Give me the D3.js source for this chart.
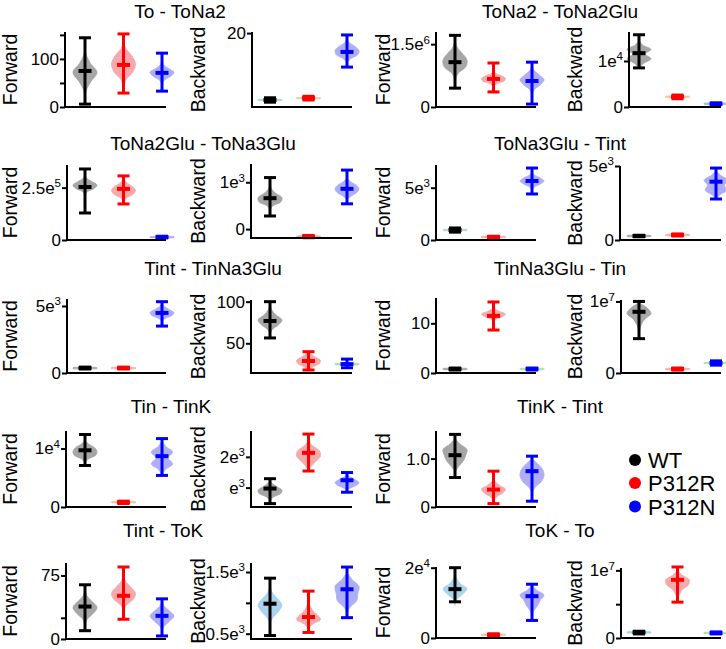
<!DOCTYPE html>
<html><head><meta charset="utf-8">
<script src="https://cdn.jsdelivr.net/npm/d3@7"></script>
<style>body{margin:0;background:#fff}svg{display:block}text{font-family:"Liberation Sans",Arial,sans-serif}</style>
</head><body><svg id="chart" width="726" height="649"></svg>
<script>
// ---------- data ----------
const groups = ['WT', 'P312R', 'P312N'];
const titles = ['To - ToNa2', 'ToNa2 - ToNa2Glu', 'ToNa2Glu - ToNa3Glu', 'ToNa3Glu - Tint',
  'Tint - TinNa3Glu', 'TinNa3Glu - Tin', 'Tin - TinK', 'TinK - Tint', 'Tint - ToK', 'ToK - To'];
const panelTitle = [0,0,1,1,2,2,3,3,4,4,5,5,6,6,7,8,8,9,9];
const panelDir = ['Forward','Backward','Forward','Backward','Forward','Backward','Forward','Backward',
  'Forward','Backward','Forward','Backward','Forward','Backward','Forward','Forward','Backward','Forward','Backward'];
const yDomains = [[0,156],[0,20.3],[0,1.79e6],[0,1.63e4],[0,3.58e5],[-190,1390],[0,7170],[0,5000],
  [0,5520],[14.3,102],[0,15.1],[0,1.02e7],[0,1.3e4],[370,2840],[0,1.57],[0,89.7],[414,1646],[0,2.02e4],[0,1.035e7]];
const tickValues = [[0,50,100,150],[20],[0,1.5e6],[0,1e4],[0,2.5e5],[0,1e3],[0,5e3],[0,5e3],[0,5e3],[50,100],
  [0,10],[0,1e7],[0,1e4],[1e3,2e3],[0,1],[0,25,75],[500,1000,1500],[0,2e4],[0,5e6,1e7]];
const tickLabels = [['0','','100',''],['20'],['0','1.5e^6'],['0','1e^4'],['0','2.5e^5'],['0','1e^3'],['0','5e^3'],
  ['0','5e^3'],['0','5e^3'],['50','100'],['0','10'],['0','1e^7'],['0','1e^4'],['e^3','2e^3'],['0','1.0'],
  ['0','','75'],['0.5e^3','','1.5e^3'],['0','2e^4'],['0','','1e^7']];
const means = [[75,87.5,71],[1.9,2.4,14.9],[1.07e6,0.67e6,0.62e6],[1.17e4,2200,700],[2.53e5,2.44e5,1.4e4],
  [660,-160,860],[960,290,5640],[270,340,3940],[370,370,4480],[76.8,28.7,25],[0.8,11.5,0.8],
  [0.855e7,0.056e7,0.14e7],[9700,800,8700],[970,2130,1240],[1.07,0.36,0.74],[38.3,51,27.3],
  [986,770,1220],[1.39e4,900,1.19e4],[0.083e7,0.86e7,0.074e7]];
const lows = [[6,29,33],[1.3,1.9,10.8],[0.45e6,0.36e6,0.07e6],[8500,1800,500],[1.29e5,1.72e5,1.0e4],
  [280,-185,540],[750,220,4400],[220,270,2770],[300,300,3500],[56.4,17.9,20.6],[0.6,8.65,0.6],
  [0.48e7,0.04e7,0.11e7],[7100,600,5400],[480,1540,850],[0.61,0.07,0.12],[9.8,23.3,3.6],
  [470,520,760],[1.03e4,600,5000],[0.06e7,0.53e7,0.06e7]];
const highs = [[144,152,112],[2.5,2.9,19.5],[1.71e6,1.05e6,1.07e6],[1.57e4,2600,900],[3.39e5,3.06e5,1.8e4],
  [1100,-135,1260],[1150,360,6880],[320,410,4860],[440,440,5320],[100,39.9,31],[1.0,14.3,1.0],
  [1.0e7,0.07e7,0.17e7],[1.24e4,1000,1.17e4],[1290,2740,1490],[1.5,0.74,1.05],[64,85,47.4],
  [1400,1190,1580],[2.0e4,1200,1.53e4],[0.1e7,1.05e7,0.09e7]];
// violin extents [low, high] and density profiles (relative, sampled low -> high)
const violinRange = [
  [[15,129],[40,140],[46,98]], [[1.75,2.05],[2.25,2.55],[12,18.5]],
  [[0.64e6,1.6e6],[0.5e6,0.86e6],[0.3e6,1.0e6]], [[8500,14500],[2050,2380],[550,850]],
  [[2.15e5,3.1e5],[1.8e5,2.95e5],[1.0e4,1.7e4]], [[400,940],[-176,-144],[620,1090]],
  [[890,1030],[220,360],[4780,6500]], [[220,320],[290,390],[2700,4700]],
  [[310,420],[310,420],[3800,5200]], [[60,96],[18,41],[24,26]],
  [[0.65,0.95],[10.2,13.5],[0.65,0.95]], [[0.53e7,0.98e7],[0.045e7,0.066e7],[0.13e7,0.15e7]],
  [[7600,11400],[700,960],[5400,11400]], [[590,1240],[1500,2550],[900,1430]],
  [[0.72,1.42],[0.14,0.6],[0.3,1.0]], [[16.6,58],[32,76],[8,46]],
  [[640,1290],[570,1050],[800,1500]], [[9200,18800],[700,1120],[6600,15000]],
  [[0.072e7,0.094e7],[0.57e7,1.0e7],[0.063e7,0.085e7]]];
const violinDensity = [
  [[0.1,0.5,1,0.45,0.08],[0.2,0.8,1,0.7,0.15],[0.15,0.7,1,0.5,0.1]],
  [[1,1,1,1,1],[1,1,1,1,1],[0.3,0.9,1,0.7,0.2]],
  [[0.25,0.9,1,0.6,0.15],[0.3,0.9,1,0.7,0.2],[0.2,0.7,1,0.6,0.15]],
  [[0.4,1,0.5,1,0.3],[1,1,1,1,1],[1,1,1,1,1]],
  [[0.2,0.8,1,0.6,0.15],[0.2,0.8,1,0.7,0.2],[1,1,1,1,1]],
  [[0.2,0.9,1,0.5,0.15],[1,1,1,1,1],[0.3,0.8,1,0.8,0.3]],
  [[1,1,1,1,1],[1,1,1,1,1],[0.2,0.7,1,0.7,0.2]],
  [[1,1,1,1,1],[1,1,1,1,1],[0.3,0.9,0.7,1,0.4]],
  [[1,1,1,1,1],[1,1,1,1,1],[0.2,0.8,1,0.6,0.2]],
  [[0.15,0.7,1,0.5,0.15],[0.4,0.9,1,0.6,0.2],[1,1,1,1,1]],
  [[1,1,1,1,1],[0.15,0.7,1,0.5,0.1],[1,1,1,1,1]],
  [[0.05,0.2,0.5,1,0.7],[1,1,1,1,1],[1,1,1,1,1]],
  [[0.3,0.9,1,0.8,0.3],[1,1,1,1,1],[0.3,0.9,0.5,0.9,0.3]],
  [[0.3,0.9,1,0.6,0.2],[0.2,0.6,1,0.9,0.3],[0.3,0.8,1,0.7,0.3]],
  [[0.3,0.7,0.9,1,0.4],[0.3,0.8,1,0.5,0.15],[0.3,0.8,1,0.9,0.5]],
  [[0.2,0.7,1,0.6,0.15],[0.2,0.8,1,0.6,0.15],[0.15,0.6,1,0.6,0.15]],
  [[0.2,0.7,1,0.6,0.15],[0.3,1,0.7,0.3,0.1],[0.2,0.8,0.9,1,0.4]],
  [[0.1,0.6,1,0.4,0.1],[1,1,1,1,1],[0.2,0.5,0.7,1,0.4]],
  [[1,1,1,1,1],[0.15,0.4,0.9,1,0.4],[1,1,1,1,1]]];
const violinKind = [['m','m','m'],['a','a','m'],['m','m','m'],['m','a','m'],['m','m','m'],['m','m','m'],
  ['a','m','m'],['m','m','m'],['m','m','m'],['m','m','a'],['m','m','a'],['m','m','a'],['m','a','m'],
  ['m','m','m'],['m','m','m'],['m','m','m'],['a','m','m'],['a','a','m'],['a','m','a']];

// ---------- layout / style ----------
const barColor = {WT:'#000000', P312R:'#ff0000', P312N:'#0000ff'};
const violinColor = {
  m: {WT:'#a6a6a6', P312R:'#f5a9aa', P312N:'#aeaef4'},
  a: {WT:'#a9d4ec', P312R:'#f7c09a', P312N:'#a6dfae'}
};
const colX0 = [66, 251, 436, 620];
const colX1 = [166, 352, 536, 721];
const colLabelX = [10, 198, 383, 575];
const panelX0 = [65,252,436,629, 67,251,436,620, 67,251,436,621, 66,251,436, 66,251,436,621];
const panelTop = [32,32,32,32, 165,164,165,166, 299,300,298,300, 431,431,431, 563,563,567,568];
const panelBot = [107,107,107,107, 240,238,240,240, 373,373,373,373, 507,507,507, 639,639,638,638];
const titleLeftX = [180, 203, 213, 171, 163];
const titleRightX = 560;
const titleBase = [18, 150, 275, 413, 537];

const svg = d3.select('#chart');

// titles
titles.forEach((t, i) => {
  const row = Math.floor(i / 2), side = i % 2;
  svg.append('text').attr('x', side ? titleRightX : titleLeftX[row]).attr('y', titleBase[row])
    .attr('text-anchor', 'middle').attr('font-size', 19).attr('fill', '#000').text(t);
});

function setLabel(sel, label) {
  sel.text(null);
  const parts = label.split('^');
  sel.append('tspan').text(parts[0]);
  if (parts.length > 1) sel.append('tspan').attr('font-size', 11.5).attr('dy', -6.5).text(parts[1]);
}

panelTitle.forEach((ti, p) => {
  const side = ti % 2;
  const col = side * 2 + (panelDir[p] === 'Backward' ? 1 : 0);
  const top = panelTop[p], bot = panelBot[p];
  const y = d3.scaleLinear().domain(yDomains[p]).range([bot, top]);
  const x = d3.scalePoint().domain(groups).range([colX0[col] + 19, colX0[col] + 96]);
  const g = svg.append('g');

  // y label
  g.append('text').attr('transform', `translate(${colLabelX[col]},${(top + bot) / 2}) rotate(-90)`)
    .attr('text-anchor', 'middle').attr('dy', '0.36em').attr('font-size', 19.5).attr('fill', '#000')
    .text(panelDir[p]);

  // violins
  groups.forEach((grp, k) => {
    const [lo, hi] = violinRange[p][k];
    const dens = violinDensity[p][k];
    const n = dens.length;
    const pts = [{v: lo, w: 0}];
    dens.forEach((d, i) => pts.push({v: lo + (i + 1) * (hi - lo) / (n + 1), w: d}));
    pts.push({v: hi, w: 0});
    const cx = x(grp);
    const area = d3.area().y(d => y(d.v)).x0(d => cx - d.w * 12).x1(d => cx + d.w * 12)
      .curve(d3.curveCatmullRom);
    const vc = violinColor[violinKind[p][k]][grp];
    g.append('path').attr('d', area(pts)).attr('fill', vc).attr('stroke', vc).attr('stroke-width', 0.8);
  });

  // error bars
  groups.forEach((grp, k) => {
    const cx = x(grp), c = barColor[grp];
    const yl = y(lows[p][k]), yh = y(highs[p][k]), ym = y(means[p][k]);
    g.append('line').attr('x1', cx).attr('x2', cx).attr('y1', yl).attr('y2', yh)
      .attr('stroke', c).attr('stroke-width', 3);
    [yl, yh].forEach(yy => g.append('line').attr('x1', cx - 6).attr('x2', cx + 6).attr('y1', yy).attr('y2', yy)
      .attr('stroke', c).attr('stroke-width', 3));
    g.append('line').attr('x1', cx - 6.5).attr('x2', cx + 6.5).attr('y1', ym).attr('y2', ym)
      .attr('stroke', c).attr('stroke-width', 4);
  });

  // y axis
  const labels = tickLabels[p];
  const ax = g.append('g').attr('transform', `translate(${panelX0[p]},0)`)
    .call(d3.axisLeft(y).tickValues(tickValues[p]).tickFormat((d, i) => labels[i])
      .tickSize(5).tickSizeOuter(0).tickPadding(1));
  ax.select('.domain').remove();
  ax.selectAll('line').attr('stroke', '#000').attr('stroke-width', 2);
  ax.selectAll('text').attr('font-size', 17).attr('fill', '#000')
    .attr('font-family', '"Liberation Sans",Arial,sans-serif')
    .each(function(d, i) { setLabel(d3.select(this), labels[i]); });
  g.append('line').attr('x1', panelX0[p]).attr('x2', panelX0[p]).attr('y1', top).attr('y2', bot + 1)
    .attr('stroke', '#000').attr('stroke-width', 2);
  g.append('line').attr('x1', panelX0[p]).attr('x2', colX1[col]).attr('y1', bot).attr('y2', bot)
    .attr('stroke', '#000').attr('stroke-width', 2);
});

// legend
const legY = [460, 483, 506.5];
groups.forEach((grp, k) => {
  svg.append('circle').attr('cx', 635).attr('cy', legY[k]).attr('r', 6).attr('fill', barColor[grp]);
  svg.append('text').attr('x', 648).attr('y', legY[k] + 8).attr('font-size', 22).attr('fill', '#000').text(grp);
});
</script></body></html>
